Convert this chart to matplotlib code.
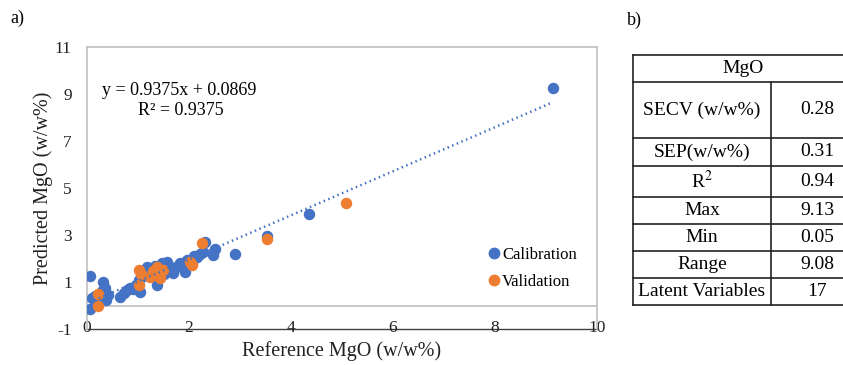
import matplotlib
matplotlib.use("Agg")
import matplotlib.pyplot as plt
from matplotlib.lines import Line2D

plt.rcParams['font.family'] = ['Liberation Serif', 'DejaVu Serif']
plt.rcParams['mathtext.fontset'] = 'stix'
plt.rcParams['axes.unicode_minus'] = False

# calibration / validation points
cal_x = [0.05, 0.06, 0.09, 0.15, 0.2, 0.25, 0.3, 0.31, 0.35, 0.38, 0.41, 0.65, 0.72, 0.78,
         0.84, 0.9, 0.97, 1.02, 1.04, 1.05, 1.1, 1.12, 1.17, 1.2, 1.25, 1.3, 1.33, 1.37,
         1.4, 1.45, 1.47, 1.5, 1.55, 1.57, 1.62, 1.69, 1.75, 1.82, 1.88, 1.92, 1.96, 2.05,
         2.1, 2.15, 2.22, 2.27, 2.31, 2.47, 2.51, 2.9, 3.52, 4.35, 9.13]
cal_y = [-0.15, 1.26, 0.3, 0.4, 0.15, 0.45, 0.6, 1.0, 0.74, 0.25, 0.45, 0.36, 0.55, 0.66,
         0.74, 0.7, 0.87, 1.1, 0.57, 1.4, 1.25, 1.5, 1.64, 1.3, 1.55, 1.2, 1.7, 0.87,
         1.45, 1.6, 1.8, 1.35, 1.75, 1.85, 1.5, 1.38, 1.65, 1.8, 1.7, 1.42, 1.95, 1.8,
         2.1, 2.06, 2.2, 2.28, 2.7, 2.15, 2.4, 2.2, 2.95, 3.9, 9.25]
val_x = [0.22, 0.22, 1.02, 1.02, 1.05, 1.24, 1.3, 1.37, 1.43, 1.49, 2.02, 2.05, 2.25, 3.53, 5.08]
val_y = [0.49, -0.02, 1.5, 0.87, 1.35, 1.2, 1.45, 1.64, 1.17, 1.5, 1.85, 1.72, 2.66, 2.83, 4.36]

slope, intercept = 0.9375, 0.0869
r2 = 0.9375
x_range = [0.05, 9.13]

xticks = [0, 2, 4, 6, 8, 10]
yticks = [-1, 1, 3, 5, 7, 9, 11]

# table b)
tab_labels = ['SECV (w/w%)', 'SEP(w/w%)', r'R$^2$', 'Max', 'Min', 'Range', 'Latent Variables']
tab_values = ['0.28', '0.31', '0.94', '9.13', '0.05', '9.08', '17']

BLUE = '#4472C4'
ORANGE = '#ED7D31'
W, H = 843, 365

fig = plt.figure(figsize=(W / 100, H / 100), dpi=100)
ax = fig.add_axes([87 / W, 1 - 329 / H, (597 - 87) / W, (329 - 47) / H])

ax.scatter(cal_x, cal_y, s=68, color=BLUE, linewidths=0, zorder=3, label='Calibration')
ax.scatter(val_x, val_y, s=68, color=ORANGE, linewidths=0, zorder=4, label='Validation')
ax.plot(x_range, [slope * v + intercept for v in x_range], color=BLUE, lw=1.8,
        ls=(0, (0.6, 1.4)), zorder=5)
ax.axhline(0, color='#BFBFBF', lw=1.2, zorder=1)

ax.set_xlim(0, 10)
ax.set_ylim(-1, 11)
ax.set_xticks(xticks)
ax.set_yticks(yticks)
ax.tick_params(length=0, labelsize=12.5, colors='#222222')
ax.tick_params(axis='x', pad=-6.5)
ax.tick_params(axis='y', pad=11)
for s in ['left', 'top', 'right']:
    ax.spines[s].set_color('#BFBFBF')
    ax.spines[s].set_linewidth(1.2)
ax.spines['bottom'].set_color('#404040')
ax.spines['bottom'].set_linewidth(1.0)
ax.spines['bottom'].set_zorder(0)

ax.set_xlabel('Reference MgO (w/w%)', fontsize=14.5, labelpad=4, color='#222222')
ax.set_ylabel('Predicted MgO (w/w%)', fontsize=14.5, labelpad=1, color='#222222')

ax.text(0.03, 0.845, 'y = %.4fx + %.4f' % (slope, intercept), transform=ax.transAxes,
        fontsize=13, va='center', ha='left')
ax.text(0.10, 0.775, 'R² = %.4f' % r2, transform=ax.transAxes,
        fontsize=13, va='center', ha='left')

handles = [Line2D([], [], marker='o', ls='', color=BLUE, markersize=7.5),
           Line2D([], [], marker='o', ls='', color=ORANGE, markersize=7.5)]
ax.legend(handles, ['Calibration', 'Validation'], loc='lower right',
          bbox_to_anchor=(0.99, 0.085), frameon=False, fontsize=12,
          handletextpad=0.0, handlelength=1.0, labelspacing=0.65)

fig.text(10 / W, 1 - 18 / H, 'a)', fontsize=13, va='center', ha='left')
fig.text(627 / W, 1 - 20 / H, 'b)', fontsize=13, va='center', ha='left')

# table drawn in pixel coordinates
tax = fig.add_axes([0, 0, 1, 1])
tax.set_xlim(0, W)
tax.set_ylim(H, 0)
tax.axis('off')
left, mid, right = 633, 771, 863
rows = [55, 82, 138, 166, 197, 224, 251, 278, 305]
for r in rows:
    tax.plot([left, right], [r, r], color='#222222', lw=1.2)
tax.plot([left, left], [rows[0], rows[-1]], color='#222222', lw=1.2)
tax.plot([mid, mid], [rows[1], rows[-1]], color='#222222', lw=1.2)
tax.text((left + 843) / 2 + 5, (rows[0] + rows[1]) / 2, 'MgO', fontsize=14,
         ha='center', va='center')
for i, (lab, val) in enumerate(zip(tab_labels, tab_values)):
    yc = (rows[i + 1] + rows[i + 2]) / 2
    tax.text((left + mid) / 2, yc, lab, fontsize=14, ha='center', va='center')
    tax.text((mid + right) / 2, yc, val, fontsize=14, ha='center', va='center')

fig.savefig('out.png', dpi=100)
